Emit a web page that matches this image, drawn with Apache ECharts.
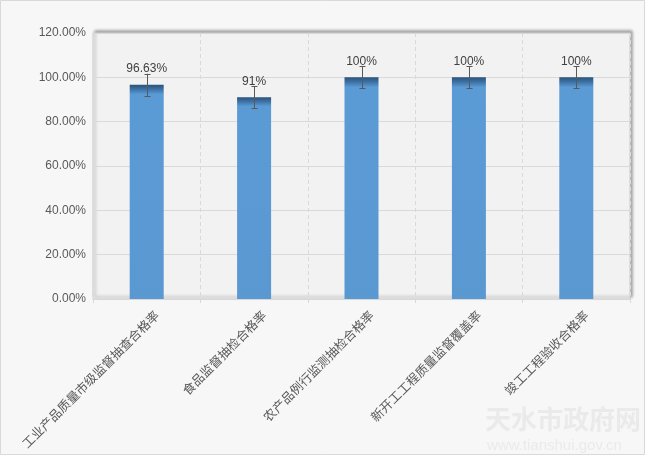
<!DOCTYPE html>
<html>
<head>
<meta charset="utf-8">
<script src="https://cdn.jsdelivr.net/npm/echarts@6/dist/echarts.min.js"></script>
<style>
html,body{margin:0;padding:0;background:#ffffff;}
#main{width:648px;height:460px;}
</style>
</head>
<body>
<div id="main"></div>
<script>
var categories = ["工业产品质量市级监督抽查合格率", "食品监督抽检合格率", "农产品例行监测抽检合格率", "新开工工程质量监督覆盖率", "竣工工程验收合格率"];
var values = [96.63, 91, 100, 100, 100];
var valueLabels = ["96.63%", "91%", "100%", "100%", "100%"];
var errors = [5, 5, 5, 5, 5];
var yTicks = [0, 20, 40, 60, 80, 100, 120];

var chart = echarts.init(document.getElementById('main'), null, {renderer: 'canvas'});
var font = '"Liberation Sans", "Noto Sans CJK SC", sans-serif';

var option = {
  animation: false,
  backgroundColor: 'transparent',
  graphic: [
    {type: 'rect', z: -10, shape: {x: 0.5, y: 0.5, width: 644, height: 454},
     style: {fill: '#f7f7f7', stroke: '#d9d9d9', lineWidth: 1}},
    {type: 'text', z: -5, left: 485, top: 406,
     style: {text: '天水市政府网', fontSize: 26, fontFamily: '"Noto Sans CJK SC"', fontWeight: 'bold', fill: 'rgba(205,205,205,0.3)'}},
    {type: 'text', z: -5, left: 487, top: 438,
     style: {text: 'www.tianshui.gov.cn', fontSize: 15, fontFamily: font, fill: 'rgba(205,205,205,0.3)'}}
  ],
  grid: [{
    left: 93, right: 18, top: 33, bottom: 161,
    show: true, backgroundColor: '#f2f2f2', borderColor: '#d0d0d0', borderWidth: 1,
    shadowColor: 'rgba(0,0,0,0.35)', shadowBlur: 3, shadowOffsetX: 2, shadowOffsetY: -2
  }, {
    left: 103, right: 8, top: 33, bottom: 161, show: false
  }],
  xAxis: [{
    type: 'category', data: categories, boundaryGap: true, gridIndex: 0,
    axisLine: {show: true, lineStyle: {color: '#d9d9d9'}},
    axisTick: {show: true, interval: 0, length: 4, lineStyle: {color: '#d9d9d9'}},
    splitLine: {show: true, interval: 0, lineStyle: {color: '#d9d9d9', type: [4, 3]}},
    axisLabel: {show: false, interval: 0}
  }, {
    type: 'category', data: categories, boundaryGap: true, gridIndex: 1,
    axisLine: {show: false}, axisTick: {show: false}, splitLine: {show: false},
    axisLabel: {rotate: 45, interval: 0, margin: 14, color: '#595959', fontSize: 12.5,
      fontFamily: '"Noto Sans CJK SC", sans-serif'}
  }],
  yAxis: [{
    type: 'value', min: 0, max: 120, interval: 20, gridIndex: 0,
    axisLine: {show: false}, axisTick: {show: false},
    splitLine: {show: true, lineStyle: {color: '#d9d9d9', width: 1}},
    axisLabel: {color: '#595959', fontSize: 12, fontFamily: font, margin: 7,
      formatter: function (v) { return v.toFixed(2) + '%'; }}
  }, {
    type: 'value', min: 0, max: 120, interval: 20, gridIndex: 1, show: false
  }],
  series: [
    {
      type: 'bar', data: values, barWidth: 34, xAxisIndex: 0, yAxisIndex: 0,
      itemStyle: {
        color: new echarts.graphic.LinearGradient(0, 0, 0, 1, [
          {offset: 0, color: '#2a5379'},
          {offset: 0.02, color: '#3c70a3'},
          {offset: 0.045, color: '#5b9bd5'},
          {offset: 1, color: '#5a98d2'}
        ])
      },
      label: {show: true, position: 'top', distance: 10, color: '#404040', fontSize: 12, fontFamily: font,
        formatter: function (p) { return valueLabels[p.dataIndex]; }}
    },
    {
      type: 'custom', z: 10, xAxisIndex: 0, yAxisIndex: 0,
      data: values.map(function (v, i) { return [i, v - errors[i], v + errors[i]]; }),
      renderItem: function (params, api) {
        var lo = api.coord([api.value(0), api.value(1)]);
        var hi = api.coord([api.value(0), api.value(2)]);
        var x = Math.round(lo[0]) + 0.5;
        var cap = 3;
        var st = {stroke: '#595959', lineWidth: 1};
        return {type: 'group', children: [
          {type: 'line', shape: {x1: x, y1: lo[1], x2: x, y2: hi[1]}, style: st},
          {type: 'line', shape: {x1: x - cap, y1: Math.round(lo[1]) + 0.5, x2: x + cap, y2: Math.round(lo[1]) + 0.5}, style: st},
          {type: 'line', shape: {x1: x - cap, y1: Math.round(hi[1]) + 0.5, x2: x + cap, y2: Math.round(hi[1]) + 0.5}, style: st}
        ]};
      }
    }
  ]
};
chart.setOption(option);
</script>
</body>
</html>
